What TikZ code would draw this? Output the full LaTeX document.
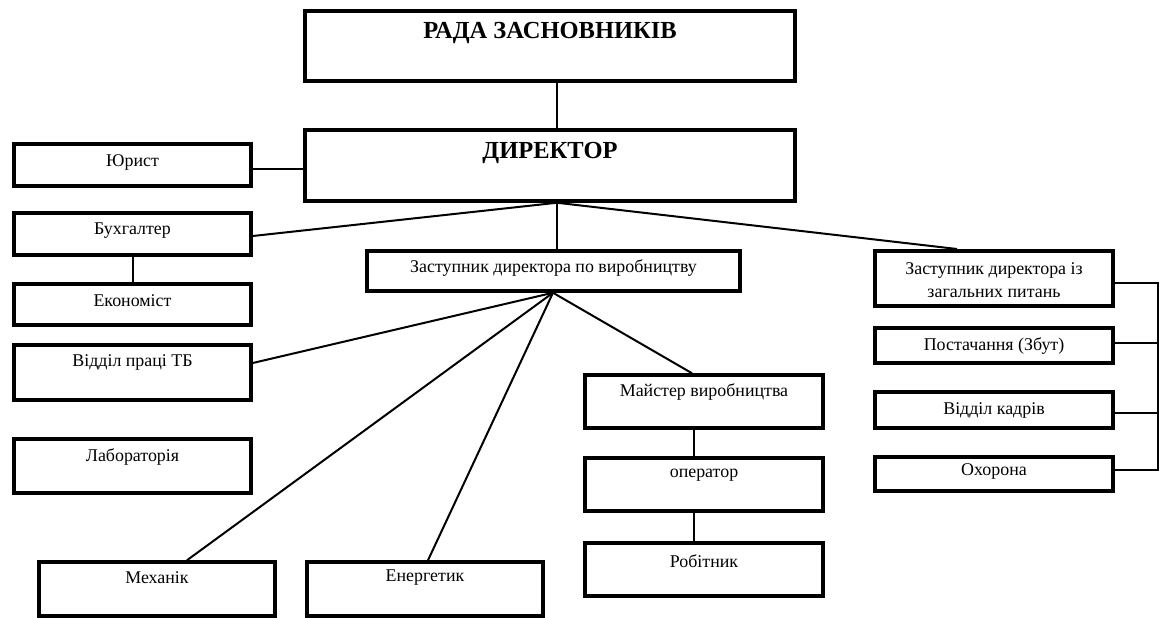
\documentclass[tikz,border=0pt]{standalone}
\usepackage{fontspec}
\setmainfont{Liberation Serif}
\begin{document}
\begin{tikzpicture}[x=1pt,y=-1pt,
  box/.style={draw, line width=3.5pt, inner sep=0pt},
  txt/.style={font=\fontsize{17.9}{21}\selectfont, inner sep=0pt, align=center},
  ttl/.style={font=\fontsize{24.5}{28}\selectfont\bfseries, inner sep=0pt},
  conn/.style={line width=2pt}]
\useasboundingbox (0,0) rectangle (1162,618);
% boxes
\node[box, minimum width=490pt, minimum height=70pt] (rada) at (550,46) {};
\node[box, minimum width=490pt, minimum height=71pt] (dir) at (550,165.5) {};
\node[box, minimum width=237pt, minimum height=42pt] (jur) at (132.5,165) {};
\node[box, minimum width=237pt, minimum height=42pt] (buh) at (132.5,234) {};
\node[box, minimum width=237pt, minimum height=41pt] (eko) at (132.5,304.5) {};
\node[box, minimum width=237pt, minimum height=55pt] (vpt) at (132.5,372.5) {};
\node[box, minimum width=237pt, minimum height=54pt] (lab) at (132.5,466) {};
\node[box, minimum width=236pt, minimum height=54pt] (mech) at (157,589) {};
\node[box, minimum width=236pt, minimum height=54pt] (energ) at (425,589) {};
\node[box, minimum width=373pt, minimum height=40pt] (zdv) at (553.5,271) {};
\node[box, minimum width=238pt, minimum height=53pt] (master) at (704,401.5) {};
\node[box, minimum width=238pt, minimum height=53pt] (oper) at (704,484.5) {};
\node[box, minimum width=238pt, minimum height=53pt] (rob) at (704,569.5) {};
\node[box, minimum width=238pt, minimum height=55pt] (zdz) at (994,278.5) {};
\node[box, minimum width=238pt, minimum height=35pt] (post) at (994,345.5) {};
\node[box, minimum width=238pt, minimum height=36pt] (kadr) at (994,410) {};
\node[box, minimum width=238pt, minimum height=34pt] (ohor) at (994,474) {};
% texts
\node[ttl] (tRada) at (550,33) {РАДА ЗАСНОВНИКІВ};
\node[ttl] (tDir) at (550,153) {ДИРЕКТОР};
\node[txt] (tJur) at (132.5,162) {Юрист};
\node[txt] (tBuh) at (132.5,231) {Бухгалтер};
\node[txt] (tEko) at (132.5,301) {Економіст};
\node[txt] (tVpt) at (132.5,362) {Відділ праці ТБ};
\node[txt] (tLab) at (132.5,457) {Лабораторія};
\node[txt] (tMech) at (157,578) {Механік};
\node[txt] (tEnerg) at (425,578) {Енергетик};
\node[txt] (tZdv) at (553.5,268) {Заступник директора по виробництву};
\node[txt] (tMaster) at (704,392) {Майстер виробництва};
\node[txt] (tOper) at (704,475) {оператор};
\node[txt] (tRob) at (704,561) {Робітник};
\node[txt] (tZdz) at (994,280) {Заступник директора із\\[2pt]загальних питань};
\node[txt] (tPost) at (994,346) {Постачання (Збут)};
\node[txt] (tKadr) at (994,410) {Відділ кадрів};
\node[txt] (tOhor) at (994,471) {Охорона};
% connectors
\coordinate (dirB) at ([xshift=7pt]dir.south);
\coordinate (zdvB) at ([xshift=-0.5pt]zdv.south);
\coordinate (br) at (1158,283);
\draw[conn] ([xshift=7pt]rada.south) -- ([xshift=7pt]dir.north);
\draw[conn] (jur.east |- 0,169) -- (dir.west |- 0,169);
\draw[conn] (dirB) -- (buh.east |- 0,236);
\draw[conn] (dirB) -- (dirB |- zdv.north);
\draw[conn] (dirB) -- (957,249);
\draw[conn] (buh.south -| 133,0) -- (eko.north -| 133,0);
\draw[conn] (zdvB) -- (vpt.east |- 0,363);
\draw[conn] (zdvB) -- (mech.north -| 187,0);
\draw[conn] (zdvB) -- (energ.north -| 428,0);
\draw[conn] (zdvB) -- (master.north -| 692,0);
\draw[conn] (master.south -| 694,0) -- (oper.north -| 694,0);
\draw[conn] (oper.south -| 694,0) -- (rob.north -| 694,0);
\draw[conn] (zdz.east |- br) -- (br) -- (1158,470) -- (ohor.east |- 0,470);
\draw[conn] (post.east |- 0,343) -- (1158,343);
\draw[conn] (kadr.east |- 0,413) -- (1158,413);
\end{tikzpicture}
\end{document}
